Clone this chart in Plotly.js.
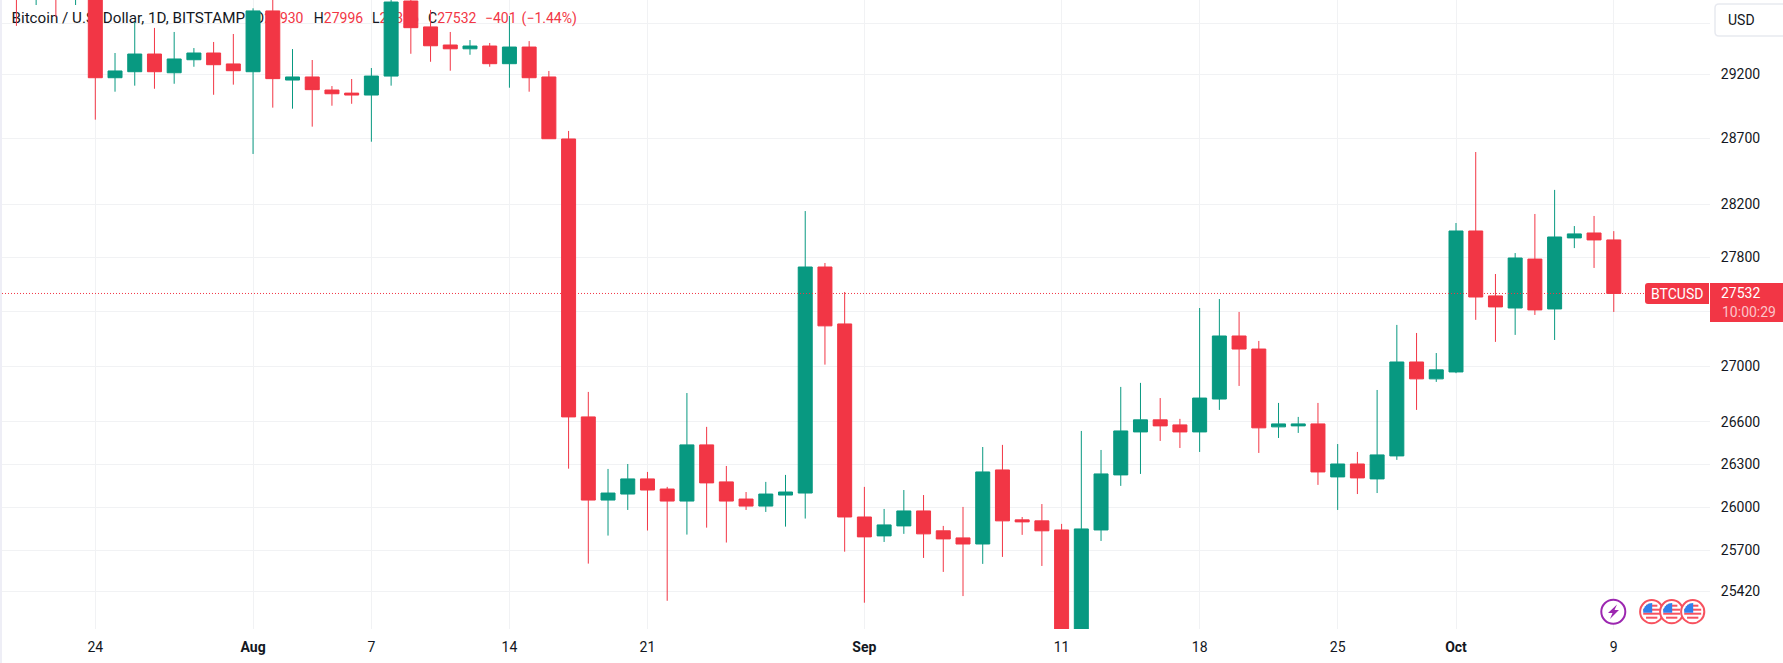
<!DOCTYPE html>
<html>
<head>
<meta charset="utf-8">
<script src="https://cdn.plot.ly/plotly-3.0.1.min.js"></script>
<style>html,body{margin:0;padding:0;background:#fff;overflow:hidden}</style>
</head>
<body>
<div id="chart" style="width:1783px;height:663px"></div>
<script>
// ---- data ----
const dates = [
 "2023-07-20","2023-07-21","2023-07-22","2023-07-23","2023-07-24","2023-07-25","2023-07-26","2023-07-27","2023-07-28","2023-07-29","2023-07-30","2023-07-31",
 "2023-08-01","2023-08-02","2023-08-03","2023-08-04","2023-08-05","2023-08-06","2023-08-07","2023-08-08","2023-08-09","2023-08-10","2023-08-11","2023-08-12","2023-08-13","2023-08-14","2023-08-15","2023-08-16","2023-08-17","2023-08-18","2023-08-19","2023-08-20","2023-08-21","2023-08-22","2023-08-23","2023-08-24","2023-08-25","2023-08-26","2023-08-27","2023-08-28","2023-08-29","2023-08-30","2023-08-31",
 "2023-09-01","2023-09-02","2023-09-03","2023-09-04","2023-09-05","2023-09-06","2023-09-07","2023-09-08","2023-09-09","2023-09-10","2023-09-11","2023-09-12","2023-09-13","2023-09-14","2023-09-15","2023-09-16","2023-09-17","2023-09-18","2023-09-19","2023-09-20","2023-09-21","2023-09-22","2023-09-23","2023-09-24","2023-09-25","2023-09-26","2023-09-27","2023-09-28","2023-09-29","2023-09-30",
 "2023-10-01","2023-10-02","2023-10-03","2023-10-04","2023-10-05","2023-10-06","2023-10-07","2023-10-08","2023-10-09"];
const opens = [
 29910,29800,29900,29790,30080,29171,29218,29357,29210,29312,29365,29279,
 29218,29698,29153,29177,29075,29051,29036,29184,29777,29571,29428,29398,29420,29281,29412,29177,28696,26636,26049,26091,26197,26126,26042,26437,26176,26056,26007,26084,26098,27728,27308,
 25931,25800,25869,25973,25835,25786,25744,26260,25911,25904,25841,25120,25841,26225,26529,26615,26579,26529,26764,27220,27125,26565,26572,26586,26211,26302,26197,26359,27031,26909,
 26959,27997,27514,27425,27787,27418,27945,27982,27930];
const highs = [
 30100,30050,30000,30300,30100,29365,29610,29563,29531,29404,29452,29515,
 29719,30000,29396,29310,29106,29161,29247,30200,30100,29706,29531,29467,29444,29658,29459,29224,28758,26815,26267,26302,26246,26141,26807,26565,26288,26105,26176,26225,28147,27758,27543,
 26141,25987,26119,26084,25869,26001,26422,26437,25931,26021,25883,26536,26401,26851,26880,26771,26622,27425,27491,27396,27184,26736,26636,26736,26443,26387,26829,27301,27242,27096,
 28057,28596,27676,27832,28125,28307,28034,28110,27996];
const lows = [
 29579,29745,29650,29745,28845,29062,29109,29085,29124,29257,29038,29117,
 28581,28938,28930,28791,28953,28968,28675,29109,29359,29296,29226,29351,29257,29093,29062,28698,26269,25609,25802,25980,25837,25355,25809,25857,25754,25980,25966,25864,25920,27012,25691,
 25342,25758,25814,25648,25552,25387,25607,25655,25807,25593,24950,25050,25765,26148,26232,26465,26415,26387,26686,26858,26380,26486,26522,26155,25980,26091,26098,26331,26686,26887,
 26950,27338,27177,27228,27374,27191,27869,27721,27396];
const closes = [
 29800,29900,29790,30080,29171,29224,29357,29218,29318,29365,29273,29226,
 29698,29164,29177,29078,29046,29036,29184,29769,29565,29422,29398,29420,29281,29412,29171,28698,26636,26049,26098,26197,26119,26042,26437,26169,26042,26007,26091,26105,27728,27294,25931,
 25793,25876,25973,25814,25779,25744,26246,25904,25897,25835,25120,25848,26232,26536,26615,26572,26529,26771,27220,27125,26558,26586,26586,26246,26302,26204,26366,27031,26909,26974,
 27997,27506,27433,27795,27411,27952,27975,27930,27532];
const xTickVals = ["2023-07-24","2023-08-01","2023-08-07","2023-08-14","2023-08-21","2023-09-01","2023-09-11","2023-09-18","2023-09-25","2023-10-01","2023-10-09"];
const xTickText = ["24","<b>Aug</b>","7","14","21","<b>Sep</b>","11","18","25","<b>Oct</b>","9"];
const yTickVals = [29600,29200,28700,28200,27800,27400,27000,26600,26300,26000,25700,25420];
const yTickText = ["","29200","28700","28200","27800","","27000","26600","26300","26000","25700","25420"];
const lastPrice = 27532;

// ---- page geometry helpers (pixels of the 1783x663 page) ----
const W = 1783, H = 663, ML = 2, MR = 73, MT = 0, MB = 34;
const UP = "#089981", DOWN = "#f23645", INK = "#131722", GRID = "#f1f2f4";
const X = p => (p - ML) / (W - ML - MR);
const Y = p => 1 - (p - MT) / (H - MT - MB);
const xRange = ["2023-07-19 06:27", "2023-10-13 21:07"];
const yRange = [4.40078, 4.47400];
const pxDate = p => new Date(Date.UTC(2023, 6, 24) + (p - 95.3) / 19.72 * 864e5).toISOString();
const pxPrice = p => 29200 * Math.exp((74 - p) / 3731);

function rect(x0, y0, x1, y1, fill, extra) {
  return Object.assign({type:"rect", xref:"paper", yref:"paper", x0:X(x0), x1:X(x1), y0:Y(y0), y1:Y(y1),
    fillcolor:fill, line:{width:0}, layer:"above"}, extra || {});
}
function circle(cx, cy, r, fill, lineColor, lw) {
  return {type:"circle", xref:"paper", yref:"paper", x0:X(cx - r), x1:X(cx + r), y0:Y(cy - r), y1:Y(cy + r),
    fillcolor:fill, line:{color:lineColor || fill, width:lw || 0}, layer:"above"};
}
function poly(points, fill) {
  const d = points.map((q, i) => (i ? "L" : "M") + X(q[0]).toFixed(6) + "," + Y(q[1]).toFixed(6)).join(" ") + " Z";
  return {type:"path", xref:"paper", yref:"paper", path:d, fillcolor:fill, line:{width:0}, layer:"above"};
}
function flag(cx, cy) {
  const r = 9, out = [circle(cx, cy, 11.6, "#ffffff", "#f7525f", 2)];
  [-6, -2, 2, 6].forEach(dy => {
    const top = dy - 1, bot = dy + 1;
    const half = Math.sqrt(Math.max(0, r * r - Math.max(top * top, bot * bot)));
    out.push(rect(cx - half, cy + top, cx + half, cy + bot, "#f7525f"));
  });
  out.push(poly([[cx - 8.5, cy + 1], [cx + 0.5, cy + 1], [cx + 0.5, cy - 8.8], [cx - 3, cy - 8.2], [cx - 6.5, cy - 5.5], [cx - 8.5, cy - 2]], "#2f80ed"));
  return out;
}

const shapes = [
  rect(0, 0, 2, 663, "#eeeef6"),
  {type:"line", xref:"paper", yref:"y2", x0:0, x1:X(1645), y0:lastPrice, y1:lastPrice,
   line:{color:DOWN, width:1, dash:"1px,2px"}, layer:"above"},
  {type:"path", xref:"paper", yref:"paper", layer:"above", fillcolor:DOWN, line:{width:0},
   path:"M"+X(1709)+","+Y(283)+" L"+X(1648)+","+Y(283)+" Q"+X(1645)+","+Y(283)+" "+X(1645)+","+Y(286)+" L"+X(1645)+","+Y(301)+" Q"+X(1645)+","+Y(304)+" "+X(1648)+","+Y(304)+" L"+X(1709)+","+Y(304)+" Z"},
  rect(1710, 283, 1783, 322, DOWN),
  {type:"path", xref:"paper", yref:"paper", layer:"above", fillcolor:"#ffffff", line:{color:"#e8eaf0", width:1.5},
   path:"M"+X(1790)+","+Y(4)+" L"+X(1719)+","+Y(4)+" Q"+X(1715)+","+Y(4)+" "+X(1715)+","+Y(8)+" L"+X(1715)+","+Y(32)+" Q"+X(1715)+","+Y(36)+" "+X(1719)+","+Y(36)+" L"+X(1790)+","+Y(36)},
  circle(1613.3, 611.7, 12, "#ffffff", "#9c27b0", 2),
  poly([[1617,604.5],[1608,613],[1612.5,613],[1610,619],[1619,610],[1614.5,610]], "#9c27b0"),
  ...flag(1651.7, 611.7), ...flag(1671.7, 611.7), ...flag(1692.7, 611.7)
];

const FONT = "Roboto, sans-serif";
function note(x, y, text, color, anchor, size) {
  return {xref:"paper", yref:"paper", x:X(x), y:Y(y), text:text, showarrow:false, xanchor:anchor || "left", yanchor:"middle",
    font:{family:FONT, size:size || 14, color:color}, borderpad:0};
}
const annotations = [
  note(1727, 20, "USD", INK),
  note(1677, 293.5, "BTCUSD", "#ffffff", "center"),
  note(1720, 293, "27532", "#ffffff"),
  note(1721, 312, "10:00:29", "rgba(255,255,255,0.72)")
];

// header text sits beneath the candles, so it lives on the base subplot
const R = s => '<span style="fill:' + DOWN + '">' + s + '</span>';
const headerText = ["Bitcoin / U.S. Dollar, 1D, BITSTAMP", "O"+R("27930"), "H"+R("27996"), "L"+R("27396"), "C"+R("27532"), R("−401"), R("(−1.44%)")];
const headerPx = [11.5, 254.5, 313.8, 372, 428, 485, 521.6];
const headerSizes = [15.2, 14, 14, 14, 14, 14, 14];

const traces = [
  {type:"scatter", mode:"text", xaxis:"x", yaxis:"y", x:headerPx.map(pxDate), y:headerPx.map(() => pxPrice(19)),
   text:headerText, textposition:"middle right", textfont:{family:FONT, size:headerSizes, color:INK}, hoverinfo:"skip", showlegend:false},
  {type:"candlestick", xaxis:"x2", yaxis:"y2", x:dates, open:opens, high:highs, low:lows, close:closes, showlegend:false,
   whiskerwidth:0,
   increasing:{line:{color:UP, width:1}, fillcolor:UP},
   decreasing:{line:{color:DOWN, width:1}, fillcolor:DOWN}}
];

const layout = {
  width:W, height:H, margin:{l:ML, r:MR, t:MT, b:MB, pad:0},
  paper_bgcolor:"#ffffff", plot_bgcolor:"#ffffff", showlegend:false,
  boxgap:0.29, boxgroupgap:0, boxmode:"overlay",
  xaxis:{type:"date", range:xRange, tickmode:"array", tickvals:xTickVals, ticktext:xTickText, showgrid:true, gridcolor:GRID, gridwidth:1,
    zeroline:false, showline:false, ticks:"outside", ticklen:5, tickcolor:"rgba(0,0,0,0)", tickfont:{family:FONT, size:14, color:INK}, rangeslider:{visible:false}, fixedrange:true},
  yaxis:{type:"log", range:yRange, side:"right", tickmode:"array", tickvals:yTickVals, ticktext:yTickText, showgrid:true, gridcolor:GRID, gridwidth:1,
    zeroline:false, showline:false, ticks:"outside", ticklen:7, tickcolor:"rgba(0,0,0,0)", tickfont:{family:FONT, size:14, color:INK}, fixedrange:true},
  xaxis2:{type:"date", range:xRange, overlaying:"x", anchor:"y2", visible:false, rangeslider:{visible:false}, fixedrange:true},
  yaxis2:{type:"log", range:yRange, overlaying:"y", anchor:"x2", side:"right", visible:false, fixedrange:true},
  shapes:shapes, annotations:annotations, hovermode:false
};
Plotly.newPlot("chart", traces, layout, {displayModeBar:false, staticPlot:true});
</script>
</body>
</html>
